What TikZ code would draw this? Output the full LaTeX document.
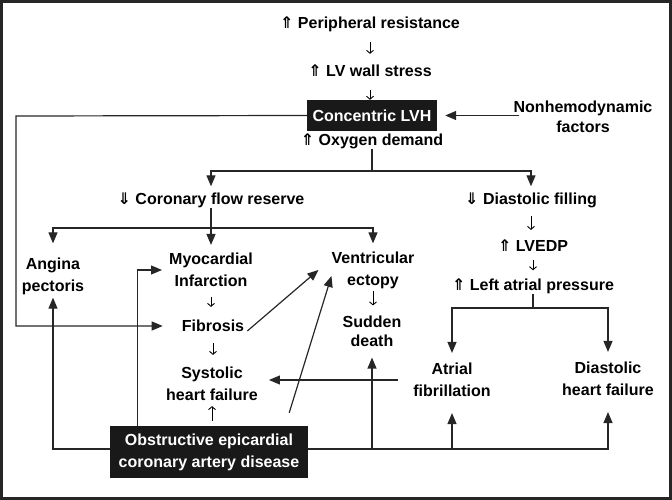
\documentclass[tikz,border=0pt]{standalone}
\usepackage{fontspec}
\setmainfont{Liberation Sans}
\newfontfamily\symfont{DejaVu Sans}
\usetikzlibrary{arrows.meta}
\newcommand{\upar}{{\symfont ⇑}}
\newcommand{\dnar}{{\symfont ⇓}}
\tikzset{
  txt/.style={font=\fontsize{16}{22}\selectfont\bfseries, align=center, inner sep=0pt},
  blackbox/.style={txt, fill=black!90, text=white},
  link/.style={line width=1.2pt, draw=black!85},
  arr/.style={link, -{Triangle[length=11pt,width=9pt]}},
  thinarr/.style={-{Straight Barb[length=3pt,width=7pt]}, line width=0.9pt},
}

\begin{document}
\begin{tikzpicture}[x=1pt,y=-1pt]
  % frame
  \useasboundingbox (0,0) rectangle (672,500);
  \draw[line width=3pt, black!85] (1.5,1.5) rectangle (670.5,498.5);

  % top chain
  \node[txt] (pr) at (370,24) {\upar\ Peripheral resistance};
  \node[txt] (lvws) at (370,71) {\upar\ LV wall stress};
  \node[blackbox, minimum width=130pt, minimum height=31pt] (lvh) at (372,115.5) {Concentric LVH};
  \node[txt] (nh) at (583,117) {Nonhemodynamic\\[-2pt]factors};
  \node[txt] (oxy) at (372,141) {\upar\ Oxygen demand};

  % coronary side
  \node[txt] (cfr) at (211,200) {\dnar\ Coronary flow reserve};
  \node[txt] (ang) at (53,276) {Angina\\pectoris};
  \node[txt] (myo) at (211,270) {Myocardial\\Infarction};
  \node[txt] (vect) at (373,270) {Ventricular\\ectopy};
  \node[txt] (fib) at (213,326) {Fibrosis};
  \node[txt] (shf) at (212,384) {Systolic\\heart failure};
  \node[txt] (sd) at (372,331) {Sudden\\[-3pt]death};
  \node[blackbox, minimum width=198pt, minimum height=52pt] (ocad) at (209,452) {Obstructive epicardial\\coronary artery disease};

  % diastolic side
  \node[txt] (df) at (531,200) {\dnar\ Diastolic filling};
  \node[txt] (lvedp) at (533,246) {\upar\ LVEDP};
  \node[txt] (lap) at (533,286) {\upar\ Left atrial pressure};
  \node[txt] (af) at (452,380) {Atrial\\fibrillation};
  \node[txt] (dhf) at (608,379) {Diastolic\\heart failure};

  \coordinate (fork1) at (372,171);
  \coordinate (fork2) at (211,228);
  \coordinate (fork3) at (533,308);
  \coordinate (rail) at (16,116);

  % top connections
  \draw[thinarr, shorten <=10pt, shorten >=11pt] (pr.south) -- (pr.south |- lvws.north);
  \draw[thinarr, shorten <=13pt, shorten >=0pt] (lvws.south) -- (lvws.south |- lvh.north);
  \draw[arr, shorten <=-6pt, shorten >=8pt] (nh.west |- lvh.east) -- (lvh.east);
  \draw[link] (oxy.south -| fork1) -- (fork1);
  \draw[arr, shorten >=6pt] (fork1) -| (cfr);
  \draw[arr, shorten >=6pt] (fork1) -| (df);

  % coronary flow reserve
  \draw[arr, shorten >=8pt] (cfr) -- (myo);
  \draw[arr, shorten >=14pt] (fork2) -| (ang);
  \draw[arr, shorten >=8pt] (fork2) -| (vect);
  \draw[arr, shorten >=19pt] (lvh.west) -- (rail) |- (fib);
  \draw[arr, shorten >=7pt] ([xshift=28pt]ocad.north west) |- (myo);
  \draw[thinarr, shorten <=10pt, shorten >=13pt] (myo.south) -- (myo.south |- fib.north);
  \draw[thinarr, shorten <=11pt, shorten >=12pt] (fib.south) -- (fib.south |- shf.north);
  \draw[thinarr, shorten <=5pt, shorten >=5pt] (ocad.north -| shf) -- (shf.south);
  \draw[arr] ([shift={(3pt,-5pt)}]fib.east) -- ([xshift=-13pt]vect.west);
  \draw[arr] ([shift={(-19pt,13pt)}]ocad.north east) -- ([yshift=-6pt]vect.west);
  \draw[thinarr, shorten <=2pt, shorten >=10pt] (vect.south) -- (vect.south |- sd.north);

  % diastolic filling
  \draw[thinarr, shorten <=8pt, shorten >=10pt] (df.south) -- (df.south |- lvedp.north);
  \draw[thinarr, shorten <=8pt, shorten >=8pt] (lvedp.south) -- (lvedp.south |- lap.north);
  \draw[link] (lap.south -| fork3) -- (fork3);
  \draw[arr, shorten >=10pt] (fork3) -| (af);
  \draw[arr, shorten >=10pt] (fork3) -| (dhf);
  \draw[arr, shorten <=15pt, shorten >=11pt] (af.west) -- (af.west -| shf.east);

  % bottom bus
  \draw[arr, shorten >=3pt] ([yshift=3pt]ocad.west) -| (ang);
  \draw[arr, shorten >=16pt] ([yshift=3pt]ocad.east) -| (dhf);
  \draw[arr, shorten >=11pt] ([yshift=3pt]ocad.east -| sd) -- (sd);
  \draw[arr, shorten >=16pt] ([yshift=3pt]ocad.east -| af) -- (af);
\end{tikzpicture}
\end{document}
